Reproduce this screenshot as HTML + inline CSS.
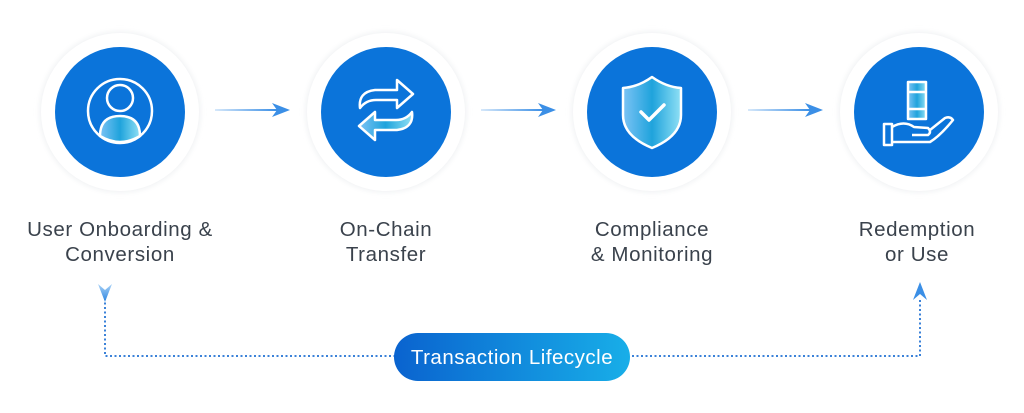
<!DOCTYPE html>
<html><head><meta charset="utf-8"><style>
html,body{margin:0;padding:0;background:#fff;}
svg{display:block}
text{font-family:"Liberation Sans",sans-serif;}
</style></head><body>
<svg width="1024" height="413" viewBox="0 0 1024 413" xmlns="http://www.w3.org/2000/svg">
<defs>
<filter id="sh" x="-30%" y="-30%" width="160%" height="160%"><feGaussianBlur stdDeviation="3"/></filter>
<linearGradient id="ar" x1="0" x2="1"><stop offset="0" stop-color="#d6e8fa"/><stop offset="1" stop-color="#3b8fe6"/></linearGradient>
<linearGradient id="pill" x1="0" x2="1"><stop offset="0" stop-color="#0a63cf"/><stop offset="1" stop-color="#18aee8"/></linearGradient>
<linearGradient id="ic" x1="0" x2="1"><stop offset="0" stop-color="#7cc3f5"/><stop offset="0.5" stop-color="#1fa3dc"/><stop offset="1" stop-color="#8fe0f5"/></linearGradient>
<linearGradient id="ad" x1="0" x2="0" y1="0" y2="1"><stop offset="0" stop-color="#a9d2f7"/><stop offset="1" stop-color="#2a84e0"/></linearGradient>
</defs>
<g>
<circle cx="120" cy="112" r="80" fill="#eef0f2" filter="url(#sh)"/><circle cx="120" cy="112" r="79" fill="#fff"/><circle cx="120" cy="112" r="65" fill="#0b74da"/>
<circle cx="386" cy="112" r="80" fill="#eef0f2" filter="url(#sh)"/><circle cx="386" cy="112" r="79" fill="#fff"/><circle cx="386" cy="112" r="65" fill="#0b74da"/>
<circle cx="652" cy="112" r="80" fill="#eef0f2" filter="url(#sh)"/><circle cx="652" cy="112" r="79" fill="#fff"/><circle cx="652" cy="112" r="65" fill="#0b74da"/>
<circle cx="919" cy="112" r="80" fill="#eef0f2" filter="url(#sh)"/><circle cx="919" cy="112" r="79" fill="#fff"/><circle cx="919" cy="112" r="65" fill="#0b74da"/>
</g>
<g stroke="#fff" stroke-width="2.5" fill="none">
<circle cx="120" cy="111" r="32"/>
<path d="M100 136 Q100 116 120 116 Q140 116 140 136 Q130 142 120 142 Q110 142 100 136Z" fill="url(#ic)"/>
<circle cx="120" cy="98" r="13" fill="#0b74da"/>
</g>
<g stroke="#fff" stroke-width="2.5" fill="none" stroke-linejoin="round">
<path d="M360 108 Q358 92 375 90 L397 90 L397 80 L413 94 L397 108 L397 100 L376 100 Q366 100 360 108Z"/>
<path d="M412 112 Q414 128 397 130 L375 130 L375 140 L359 126 L375 112 L375 120 L396 120 Q406 120 412 112Z" fill="url(#ic)"/>
</g>
<g stroke="#fff" stroke-width="2.5" stroke-linejoin="round">
<path d="M652 77 Q638 87 623 88 L623 115 Q623 136 652 148 Q681 136 681 115 L681 88 Q666 87 652 77Z" fill="url(#ic)"/>
<path d="M641 112 L649 120 L664 105" fill="none" stroke-width="3.5" stroke-linecap="round"/>
</g>
<g stroke="#fff" stroke-width="2.5" fill="none" stroke-linejoin="round">
<rect x="908" y="82" width="18" height="37" fill="url(#ic)"/>
<line x1="908" y1="92" x2="926" y2="92"/><line x1="908" y1="109" x2="926" y2="109"/>
<rect x="884" y="124" width="8" height="21"/>
<path d="M892 127 Q904 120 914 127 L928 128 Q932 132 928 135 L912 135 M892 142 L930 142 Q940 136 953 120 Q950 116 945 118 L930 130"/>
</g>
<g>
<rect x="215" y="109" width="62" height="2" fill="url(#ar)"/><path d="M272 103 L290 110 L272 117 L277 110Z" fill="#3b8fe6"/>
<rect x="481" y="109" width="62" height="2" fill="url(#ar)"/><path d="M538 103 L556 110 L538 117 L543 110Z" fill="#3b8fe6"/>
<rect x="748" y="109" width="62" height="2" fill="url(#ar)"/><path d="M805 103 L823 110 L805 117 L810 110Z" fill="#3b8fe6"/>
</g>
<g fill="#3a424c" font-size="20.5" letter-spacing="0.6" text-anchor="middle">
<text x="120" y="236">User Onboarding &amp;</text><text x="120" y="261">Conversion</text>
<text x="386" y="236">On-Chain</text><text x="386" y="261">Transfer</text>
<text x="652" y="236">Compliance</text><text x="652" y="261">&amp; Monitoring</text>
<text x="917" y="236">Redemption</text><text x="917" y="261">or Use</text>
</g>
<path d="M105 298 L105 356 L920 356 L920 298" fill="none" stroke="#3b82d8" stroke-width="2" stroke-dasharray="2 2.5"/>
<path d="M98 284 L105 290 L112 284 L105 302Z" fill="url(#ad)"/>
<path d="M913 300 L920 294 L927 300 L920 282Z" fill="#3b8fe6"/>
<rect x="394" y="333" width="236" height="48" rx="24" fill="url(#pill)"/>
<text x="512" y="364" fill="#fff" font-size="20.5" letter-spacing="0.5" text-anchor="middle">Transaction Lifecycle</text>
</svg>
</body></html>
